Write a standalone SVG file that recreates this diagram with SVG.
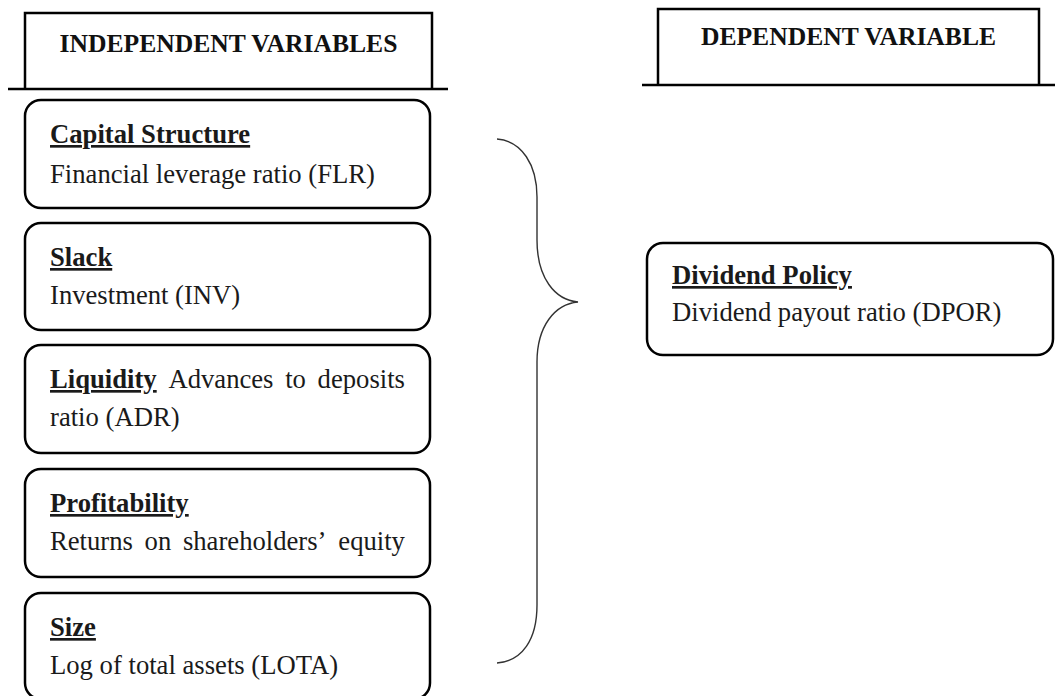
<svg xmlns="http://www.w3.org/2000/svg" width="1055" height="696" viewBox="0 0 1055 696">
<style>
.box{fill:#fff;stroke:#000;stroke-width:2.5}
.hdr{fill:none;stroke:#000;stroke-width:2.5}
.t{font-family:"Liberation Serif","Times New Roman",serif;font-size:26.67px;fill:#1a1a1a}
.b{font-weight:bold;text-decoration:underline}
.h{font-family:"Liberation Serif","Times New Roman",serif;font-size:25.6px;font-weight:bold;fill:#111;text-anchor:middle}
.brace{fill:none;stroke:#333;stroke-width:1.4}
</style>
<rect width="1055" height="696" fill="#fff"/>
<g id="header-independent">
<path class="hdr" d="M25,89 V13 H432 V89"/>
<path class="hdr" d="M8,89 H448"/>
<text class="h" x="228.5" y="52">INDEPENDENT VARIABLES</text>
</g>
<g id="header-dependent">
<path class="hdr" d="M658,85 V9 H1039 V85"/>
<path class="hdr" d="M642,85 H1055"/>
<text class="h" x="848.5" y="45">DEPENDENT VARIABLE</text>
</g>
<g id="capital-structure">
<rect class="box" x="25" y="100" width="405" height="108" rx="16"/>
<text class="t" x="50" y="143"><tspan class="b">Capital Structure</tspan></text>
<text class="t" x="50" y="183">Financial leverage ratio (FLR)</text>
</g>
<g id="slack">
<rect class="box" x="25" y="223" width="405" height="107" rx="16"/>
<text class="t" x="50" y="266"><tspan class="b">Slack</tspan></text>
<text class="t" x="50" y="304">Investment (INV)</text>
</g>
<g id="liquidity">
<rect class="box" x="25" y="345" width="405" height="108" rx="16"/>
<text class="t" y="388"><tspan class="b" x="50">Liquidity</tspan><tspan x="168.4">Advances</tspan><tspan x="285.2">to</tspan><tspan x="317.6">deposits</tspan></text>
<text class="t" x="50" y="426">ratio (ADR)</text>
</g>
<g id="profitability">
<rect class="box" x="25" y="469" width="405" height="108" rx="16"/>
<text class="t" x="50" y="512"><tspan class="b">Profitability</tspan></text>
<text class="t" y="550"><tspan x="50">Returns</tspan><tspan x="144.6">on</tspan><tspan x="182.9">shareholders’</tspan><tspan x="338.3">equity</tspan></text>
</g>
<g id="size">
<rect class="box" x="25" y="593" width="405" height="106" rx="16"/>
<text class="t" x="50" y="636"><tspan class="b">Size</tspan></text>
<text class="t" x="50" y="674">Log of total assets (LOTA)</text>
</g>
<g id="dividend-policy">
<rect class="box" x="647" y="243" width="406" height="112" rx="16"/>
<text class="t" x="672" y="284"><tspan class="b">Dividend Policy</tspan></text>
<text class="t" x="672" y="321">Dividend payout ratio (DPOR)</text>
</g>
<g id="connectors">
<path class="brace" d="M497,139 C522,141 537,165 537,197 L537,240 C537,278 555,300 578,302 C555,304 537,326 537,362 L537,605 C537,640 522,661 497,663"/>
</g>
</svg>
